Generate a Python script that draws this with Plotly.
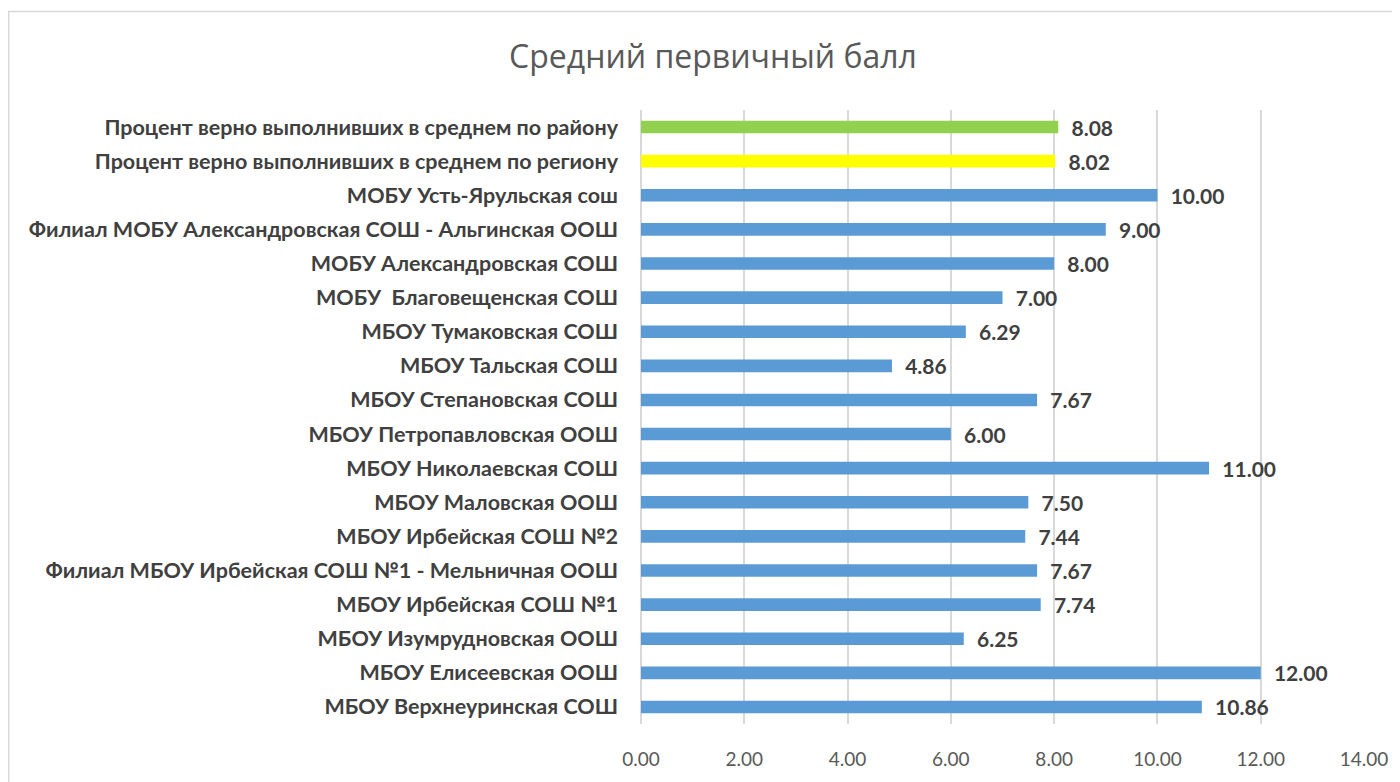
import plotly.graph_objects as go

categories = [
    "МБОУ Верхнеуринская СОШ",
    "МБОУ Елисеевская ООШ",
    "МБОУ Изумрудновская ООШ",
    "МБОУ Ирбейская СОШ №1",
    "Филиал МБОУ Ирбейская СОШ №1 - Мельничная ООШ",
    "МБОУ Ирбейская СОШ №2",
    "МБОУ Маловская ООШ",
    "МБОУ Николаевская СОШ",
    "МБОУ Петропавловская ООШ",
    "МБОУ Степановская СОШ",
    "МБОУ Тальская СОШ",
    "МБОУ Тумаковская СОШ",
    "МОБУ  Благовещенская СОШ",
    "МОБУ Александровская СОШ",
    "Филиал МОБУ Александровская СОШ - Альгинская ООШ",
    "МОБУ Усть-Ярульская сош",
    "Процент верно выполнивших в среднем по региону",
    "Процент верно выполнивших в среднем по району",
]
values = [10.86, 12.00, 6.25, 7.74, 7.67, 7.44, 7.50, 11.00, 6.00, 7.67,
          4.86, 6.29, 7.00, 8.00, 9.00, 10.00, 8.02, 8.08]
bar_colors = ["#5B9BD5"] * 16 + ["#FFFF00", "#92D050"]
tick_vals = [0, 2, 4, 6, 8, 10, 12, 14]
tick_text = ["0.00", "2.00", "4.00", "6.00", "8.00", "10.00", "12.00", "14.00"]
title_text = "Средний первичный балл"

FONT = "Lato"

# page body has an 8px margin; figure is placed at (8, 8)
OFF = 8
W, H = 1400 - OFF, 782 - OFF
L = 641 - OFF
T = 110 - OFF
R = W - (1364 - OFF)
B = H - (727 - OFF)
pw = W - L - R
ph = H - T - B

fig = go.Figure(go.Bar(
    x=values,
    y=categories,
    orientation="h",
    marker=dict(color=bar_colors, line=dict(width=0)),
    text=["\u00a0\u00a0" + f"{v:.2f}" for v in values],
    textposition="outside",
    constraintext="none",
    textfont=dict(family=FONT, size=21, color="#404040", weight="bold"),
    cliponaxis=False,
    hoverinfo="x+y",
))

fig.update_layout(
    width=W, height=H,
    margin=dict(l=L, r=R, t=T, b=B),
    paper_bgcolor="white",
    plot_bgcolor="white",
    bargap=0.63,
    showlegend=False,
    title=dict(text=title_text, x=(713 - OFF) / W, xanchor="center", y=1 - (57 - OFF) / H, yanchor="middle",
               font=dict(family="Open Sans", size=32, color="#595959")),
    xaxis=dict(range=[0, 14], tickvals=tick_vals, ticktext=tick_text,
               showgrid=True, gridcolor="#D9D9D9", gridwidth=1.5,
               zeroline=True, zerolinecolor="#D9D9D9", zerolinewidth=1.5,
               showline=False, ticks="", ticklabelstandoff=22,
               tickfont=dict(family=FONT, size=19, color="#595959"),
               fixedrange=True),
    yaxis=dict(showgrid=False, showline=False, ticks="", ticklabelstandoff=22,
               tickfont=dict(family=FONT, size=21.5, color="#404040", weight="bold"),
               categoryorder="array", categoryarray=categories, fixedrange=True),
    shapes=[dict(type="rect", xref="paper", yref="paper",
                 x0=(0.75 - L) / pw, x1=(W + 20 - L) / pw,
                 y0=(-150) / ph, y1=(ph + T - 3) / ph,
                 line=dict(color="#D9D9D9", width=1.5), fillcolor="rgba(0,0,0,0)", layer="below")],
)

fig.write_html("out.html")
